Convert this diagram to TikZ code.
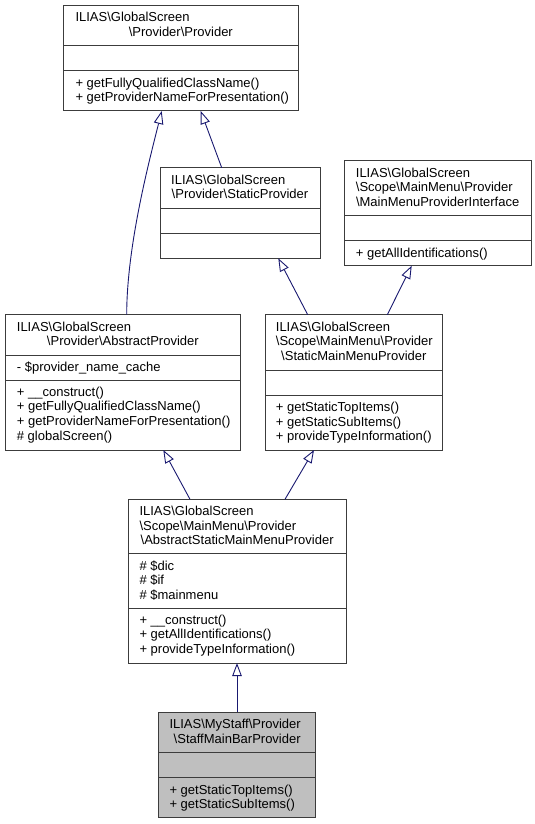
\documentclass[tikz,border=0pt]{standalone}
\usepackage{fontspec}
\setmainfont{Liberation Sans}
\usetikzlibrary{arrows.meta}
\definecolor{midnight}{RGB}{25,25,112}
\definecolor{boxline}{RGB}{60,60,60}
\definecolor{curfill}{RGB}{191,191,191}
\newcommand\fs{\fontsize{13}{14.6}\selectfont}
\newcommand\bs{\textbackslash{}}
\tikzset{
 cls/.style={draw=boxline, line width=1pt, fill=white, anchor=north west, inner sep=0pt, outer sep=0pt},
 sepline/.style={draw=boxline, line width=1pt},
 txt/.style={anchor=base west, inner sep=0pt, font=\fs},
 ctxt/.style={anchor=base, inner sep=0pt, font=\fs},
 inh/.style={draw=midnight, line width=0.9pt, -{Triangle[open, length=13pt, width=9.5pt]}}
}
\begin{document}
\begin{tikzpicture}[x=1pt,y=-1pt]
\useasboundingbox (0,0) rectangle (535,824);
% ---------- A
\node[cls, minimum width=235pt, minimum height=105.3pt] (A) at (63.3,5.7) {};
\draw[sepline] ([yshift=-40pt]A.north west) -- ([yshift=-40pt]A.north east);
\draw[sepline] ([yshift=-65.3pt]A.north west) -- ([yshift=-65.3pt]A.north east);
\node[txt] (A1) at (75.3,22) {ILIAS\bs GlobalScreen};
\node[ctxt] (A2) at (180.8,36.6) {\bs Provider\bs Provider};
\node[txt] (A3) at (75.3,87.3) {+ getFullyQualifiedClassName()};
\node[txt] (A4) at (75.3,101.9) {+ getProviderNameForPresentation()};
% ---------- B
\node[cls, minimum width=160pt, minimum height=90.6pt] (B) at (160,167.7) {};
\draw[sepline] ([yshift=-40.6pt]B.north west) -- ([yshift=-40.6pt]B.north east);
\draw[sepline] ([yshift=-65.6pt]B.north west) -- ([yshift=-65.6pt]B.north east);
\node[txt] (B1) at (171,184) {ILIAS\bs GlobalScreen};
\node[ctxt] (B2) at (240,198.6) {\bs Provider\bs StaticProvider};
% ---------- C
\node[cls, minimum width=186.7pt, minimum height=105pt] (C) at (344.3,160.7) {};
\draw[sepline] ([yshift=-54.6pt]C.north west) -- ([yshift=-54.6pt]C.north east);
\draw[sepline] ([yshift=-80pt]C.north west) -- ([yshift=-80pt]C.north east);
\node[txt] (C1) at (355.7,177) {ILIAS\bs GlobalScreen};
\node[txt] (C2) at (355.7,191.6) {\bs Scope\bs MainMenu\bs Provider};
\node[ctxt] (C3) at (437.65,206.2) {\bs MainMenuProviderInterface};
\node[txt] (C4) at (355.7,257) {+ getAllIdentifications()};
% ---------- D
\node[cls, minimum width=235.7pt, minimum height=135.3pt] (D) at (5,314.7) {};
\draw[sepline] ([yshift=-40.3pt]D.north west) -- ([yshift=-40.3pt]D.north east);
\draw[sepline] ([yshift=-65.3pt]D.north west) -- ([yshift=-65.3pt]D.north east);
\node[txt] (D1) at (16.7,331) {ILIAS\bs GlobalScreen};
\node[ctxt] (D2) at (122.85,345.6) {\bs Provider\bs AbstractProvider};
\node[txt] (D3) at (16.7,371.3) {- \$provider\_name\_cache};
\node[txt] (D4) at (16.7,396.3) {+ \_\_construct()};
\node[txt] (D5) at (16.7,410.9) {+ getFullyQualifiedClassName()};
\node[txt] (D6) at (16.7,425.5) {+ getProviderNameForPresentation()};
\node[txt] (D7) at (16.7,440.1) {\# globalScreen()};
% ---------- E
\node[cls, minimum width=177.7pt, minimum height=135.3pt] (E) at (265,314.7) {};
\draw[sepline] ([yshift=-55.3pt]E.north west) -- ([yshift=-55.3pt]E.north east);
\draw[sepline] ([yshift=-80.6pt]E.north west) -- ([yshift=-80.6pt]E.north east);
\node[txt] (E1) at (275.7,331) {ILIAS\bs GlobalScreen};
\node[txt] (E2) at (275.7,345.6) {\bs Scope\bs MainMenu\bs Provider};
\node[ctxt] (E3) at (353.85,360.2) {\bs StaticMainMenuProvider};
\node[txt] (E4) at (275.7,411.6) {+ getStaticTopItems()};
\node[txt] (E5) at (275.7,426.2) {+ getStaticSubItems()};
\node[txt] (E6) at (275.7,440.8) {+ provideTypeInformation()};
% ---------- F
\node[cls, minimum width=217.7pt, minimum height=163.7pt] (F) at (128.3,499.3) {};
\draw[sepline] ([yshift=-54.4pt]F.north west) -- ([yshift=-54.4pt]F.north east);
\draw[sepline] ([yshift=-108.7pt]F.north west) -- ([yshift=-108.7pt]F.north east);
\node[txt] (F1) at (139.3,515.6) {ILIAS\bs GlobalScreen};
\node[txt] (F2) at (139.3,530.2) {\bs Scope\bs MainMenu\bs Provider};
\node[ctxt] (F3) at (237.15,544.8) {\bs AbstractStaticMainMenuProvider};
\node[txt] (F4) at (139.3,570) {\# \$dic};
\node[txt] (F5) at (139.3,584.6) {\# \$if};
\node[txt] (F6) at (139.3,599.2) {\# \$mainmenu};
\node[txt] (F7) at (139.3,624.3) {+ \_\_construct()};
\node[txt] (F8) at (139.3,638.9) {+ getAllIdentifications()};
\node[txt] (F9) at (139.3,653.5) {+ provideTypeInformation()};
% ---------- G
\node[cls, fill=curfill, minimum width=157pt, minimum height=105.4pt] (G) at (158.7,712.3) {};
\draw[sepline] ([yshift=-40pt]G.north west) -- ([yshift=-40pt]G.north east);
\draw[sepline] ([yshift=-65.4pt]G.north west) -- ([yshift=-65.4pt]G.north east);
\node[txt] (G1) at (169.3,728.6) {ILIAS\bs MyStaff\bs Provider};
\node[ctxt] (G2) at (237.2,743.2) {\bs StaffMainBarProvider};
\node[txt] (G3) at (169.3,794) {+ getStaticTopItems()};
\node[txt] (G4) at (169.3,808.6) {+ getStaticSubItems()};
% ---------- edges
\draw[inh] ([xshift=121.7pt]D.north west) .. controls (126.7,245) and (150,158) .. ([xshift=98.4pt]A.south west);
\draw[inh] ([xshift=61.7pt]B.north west) -- ([xshift=137.4pt]A.south west);
\draw[inh] ([xshift=42.7pt]E.north west) -- ([xshift=118.3pt]B.south west);
\draw[inh] ([xshift=122.3pt]E.north west) -- ([xshift=67.4pt]C.south west);
\draw[inh] ([xshift=61.7pt]F.north west) -- ([xshift=158.3pt]D.south west);
\draw[inh] ([xshift=156.7pt]F.north west) -- ([xshift=49pt]E.south west);
\draw[inh] ([xshift=78.3pt]G.north west) -- ([xshift=108.7pt]F.south west);
\end{tikzpicture}
\end{document}
